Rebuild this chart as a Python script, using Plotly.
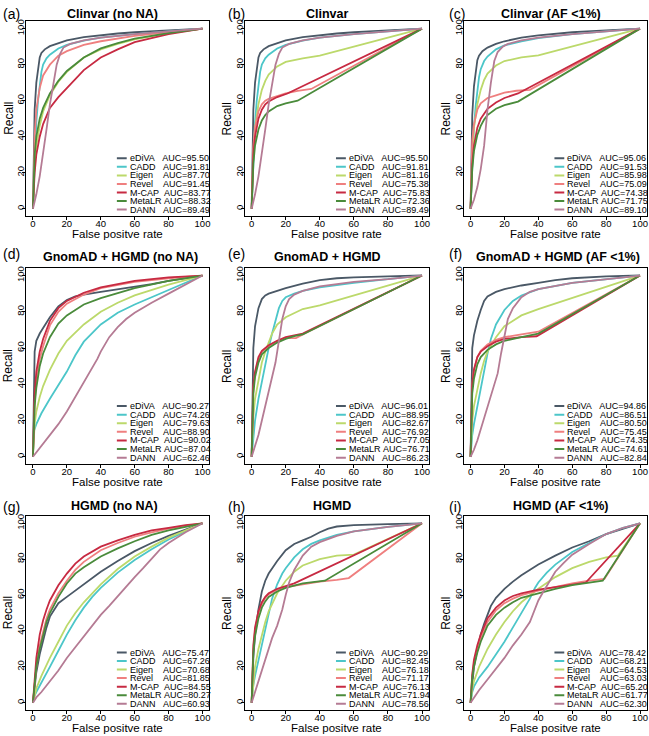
import plotly.graph_objects as go

# ---------------- data ----------------
TOOLS = ["eDiVA", "CADD", "Eigen", "Revel", "M-CAP", "MetaLR", "DANN"]
TITLES = ["Clinvar (no NA)", "Clinvar", "Clinvar (AF <1%)",
          "GnomAD + HGMD (no NA)", "GnomAD + HGMD", "GnomAD + HGMD (AF <1%)",
          "HGMD (no NA)", "HGMD", "HGMD (AF <1%)"]
PANEL_TAGS = ["(a)", "(b)", "(c)", "(d)", "(e)", "(f)", "(g)", "(h)", "(i)"]
X_TICKS = [0, 20, 40, 60, 80, 100]
Y_TICKS = [0, 20, 40, 60, 80, 100]

auc_a = ["95.50", "91.81", "87.70", "91.45", "83.77", "88.32", "89.49"]
auc_b = ["95.50", "91.81", "81.16", "75.38", "75.83", "72.36", "89.49"]
auc_c = ["95.06", "91.53", "85.98", "75.09", "74.38", "71.75", "89.10"]
auc_d = ["90.27", "74.26", "79.63", "88.90", "90.02", "87.04", "62.46"]
auc_e = ["96.01", "88.95", "82.67", "76.92", "77.05", "76.71", "86.23"]
auc_f = ["94.86", "86.51", "80.50", "75.45", "74.35", "74.61", "82.84"]
auc_g = ["75.47", "67.26", "70.68", "81.85", "84.55", "80.27", "60.93"]
auc_h = ["90.29", "82.45", "76.18", "71.17", "76.13", "71.94", "78.56"]
auc_i = ["78.42", "68.21", "64.53", "63.03", "65.20", "61.77", "62.30"]

# (false positive rate, recall)
a_ediva = [(0, 0), (0.5, 35), (1, 55), (2, 70), (3, 79), (4, 84), (5, 86.5), (7, 88.5), (10, 90.3), (15, 92), (20, 93.5), (30, 95.3), (40, 96.5), (50, 97.3), (60, 98), (80, 99), (100, 100)]
a_cadd = [(0, 0), (1, 30), (2, 48), (3, 60), (4, 70), (5, 76), (6, 80), (8, 83.5), (10, 85.5), (15, 89), (20, 91), (30, 93.3), (40, 95), (60, 97), (80, 98.5), (100, 100)]
a_eigen = [(0, 0), (1, 25), (2, 35), (4, 46), (6, 54), (10, 63), (15, 70.5), (20, 76), (30, 84), (40, 88.5), (50, 91.5), (60, 94), (80, 97.5), (100, 100)]
a_revel = [(0, 0), (1, 40), (2, 55), (4, 67), (6, 74), (10, 80), (15, 85), (20, 87.5), (30, 91), (40, 93), (60, 96), (80, 98), (100, 100)]
a_mcap = [(0, 0), (1, 20), (2, 30), (4, 40), (6, 47), (10, 56), (15, 62), (20, 67), (25, 72.5), (30, 77), (40, 84), (50, 88.5), (60, 92.5), (80, 97), (100, 100)]
a_metalr = [(0, 0), (1, 30), (2, 40), (4, 50), (6, 56), (10, 64), (15, 71), (20, 76.5), (30, 84), (40, 89), (50, 92), (60, 94.5), (80, 97.5), (100, 100)]
a_dann = [(0, 0), (2, 8), (4, 18), (6, 30), (8, 44), (10, 58), (12, 70), (14, 80), (16, 86), (18, 89.5), (22, 91.5), (30, 93.5), (40, 95), (60, 97), (80, 98.5), (100, 100)]

b_ediva = [(0, 0), (0.5, 35), (1, 55), (2, 70), (3, 79), (4, 84), (5, 86.5), (7, 88.5), (10, 90.3), (15, 92), (20, 93.5), (30, 95.3), (40, 96.5), (50, 97.3), (60, 98), (80, 99), (100, 100)]
b_cadd = [(0, 0), (1, 30), (2, 48), (3, 60), (4, 70), (5, 76), (6, 80), (8, 83.5), (10, 85.5), (15, 89), (20, 91), (30, 93.3), (40, 95), (60, 97), (80, 98.5), (100, 100)]
b_eigen = [(0, 0), (1, 30), (2, 45), (4, 58), (6, 66), (8, 71), (10, 74.5), (15, 79), (20, 81.5), (30, 83.5), (40, 85), (100, 100)]
b_revel = [(0, 0), (1, 35), (2, 45), (4, 54), (6, 58), (8, 60), (10, 61), (15, 62.5), (20, 64), (27, 65.5), (35, 66.5), (100, 100)]
b_mcap = [(0, 0), (1, 30), (2, 40), (4, 50), (6, 55), (8, 58), (10, 59.5), (15, 62), (21, 64), (100, 100)]
b_metalr = [(0, 0), (1, 25), (2, 35), (4, 44), (6, 49), (8, 52), (10, 54), (15, 57), (20, 58.5), (27, 60), (100, 100)]
b_dann = [(0, 0), (2, 8), (4, 18), (6, 30), (8, 44), (10, 58), (12, 70), (14, 80), (16, 86), (18, 89.5), (22, 91.5), (30, 93.5), (40, 95), (60, 97), (80, 98.5), (100, 100)]

c_ediva = [(0, 0), (0.5, 33), (1, 52), (2, 68), (3, 77), (4, 82.5), (5, 85), (7, 87.5), (10, 89.5), (15, 91.5), (20, 93), (30, 95), (40, 96.3), (50, 97.2), (60, 98), (80, 99), (100, 100)]
c_cadd = [(0, 0), (1, 28), (2, 45), (3, 57), (4, 67), (5, 73), (6, 77.5), (8, 82), (10, 84.5), (15, 88.5), (20, 90.7), (30, 93), (40, 94.8), (60, 97), (80, 98.5), (100, 100)]
c_eigen = [(0, 0), (1, 30), (2, 45), (4, 58), (6, 66), (8, 71.5), (10, 75), (15, 79.5), (20, 82), (30, 84), (40, 85.2), (100, 100)]
c_revel = [(0, 0), (1, 38), (2, 47), (4, 55), (6, 58.5), (8, 60), (10, 61.5), (15, 63), (20, 64.5), (27, 65.5), (35, 66), (100, 100)]
c_mcap = [(0, 0), (1, 25), (2, 35), (4, 45), (6, 50), (8, 53), (10, 55.5), (15, 59), (20, 61.5), (28, 64), (100, 100)]
c_metalr = [(0, 0), (1, 22), (2, 32), (4, 41), (6, 46), (8, 49.5), (10, 52), (15, 55.5), (20, 57.5), (28, 59.5), (100, 100)]
c_dann = [(0, 0), (2, 5), (4, 12), (6, 22), (8, 35), (10, 55), (12, 70), (14, 82), (16, 87), (19, 90), (22, 91.5), (30, 93.5), (40, 95), (60, 97), (80, 98.5), (100, 100)]

d_ediva = [(0, 0), (0.5, 40), (1, 58), (2, 64), (4, 68), (6, 71), (10, 77), (15, 83), (20, 86.5), (25, 88.5), (30, 89.5), (40, 91), (50, 92.3), (60, 93.7), (70, 95.3), (80, 97), (90, 98.5), (100, 100)]
d_cadd = [(0, 0), (0.5, 14), (2, 18), (5, 24), (10, 32), (15, 39.5), (20, 47), (25, 56), (30, 63.5), (40, 73), (50, 79.5), (60, 84), (70, 88), (80, 92), (90, 96), (100, 100)]
d_eigen = [(0, 0), (1, 18), (2, 25), (4, 33), (6, 39), (10, 48), (15, 57), (20, 64), (30, 73), (40, 80), (50, 85), (60, 89), (80, 95), (100, 100)]
d_revel = [(0, 0), (1, 30), (2, 42), (4, 54), (6, 61), (10, 72.5), (15, 80), (20, 84.5), (30, 89.5), (40, 93), (60, 96.5), (80, 98.5), (100, 100)]
d_mcap = [(0, 0), (1, 35), (2, 47), (4, 58), (6, 65), (10, 75), (15, 82), (20, 86), (30, 90.5), (40, 93.5), (60, 97), (80, 99), (100, 100)]
d_metalr = [(0, 0), (1, 28), (2, 38), (4, 50), (6, 57), (10, 66), (15, 73.5), (20, 78), (30, 84), (40, 87.5), (60, 93), (80, 97), (100, 100)]
d_dann = [(0, 0), (5, 6), (10, 12), (15, 18), (20, 25), (25, 33), (30, 41), (35, 49), (38, 54), (40, 58), (45, 66), (50, 71.5), (55, 76), (60, 79.5), (70, 85), (80, 90), (90, 95), (100, 100)]

e_ediva = [(0, 0), (0.5, 40), (1, 60), (2, 72), (4, 82), (6, 87), (8, 89), (10, 90), (15, 91.5), (20, 93), (30, 95.5), (40, 97.5), (50, 98.5), (60, 99), (80, 99.5), (100, 100)]
e_cadd = [(0, 0), (1, 12), (2, 20), (4, 32), (6, 42), (8, 51), (10, 60), (12, 68), (14, 75), (16, 82), (18, 86), (20, 88), (25, 90), (30, 91.5), (40, 93.5), (60, 96), (80, 98), (100, 100)]
e_eigen = [(0, 0), (1, 22), (2, 32), (4, 43), (6, 52), (8, 58), (10, 63), (12, 68), (15, 73), (20, 77), (30, 81.5), (40, 83.5), (100, 100)]
e_revel = [(0, 0), (0.5, 28), (1, 38), (2, 46), (4, 54), (6, 58), (10, 61), (15, 64), (20, 65.5), (26, 65.5), (32, 68.5), (100, 100)]
e_mcap = [(0, 0), (0.5, 30), (1, 40), (2, 47), (4, 55), (6, 58.5), (10, 61.5), (15, 64), (20, 66), (25, 67), (30, 68), (100, 100)]
e_metalr = [(0, 0), (0.5, 25), (1, 35), (2, 44), (4, 52), (6, 56.5), (10, 60), (15, 63), (20, 65), (25, 66.5), (30, 67.5), (100, 100)]
e_dann = [(0, 0), (2, 6), (4, 12), (6, 20), (8, 28), (10, 36), (12, 43), (14, 52), (16, 64), (18, 76), (20, 83), (22, 87), (25, 89.5), (30, 91.5), (40, 94), (60, 96.5), (80, 98), (100, 100)]

f_ediva = [(0, 0), (0.5, 40), (1, 60), (2, 67), (4, 75), (6, 81), (8, 86), (10, 88.5), (15, 91), (20, 92.5), (30, 94.5), (40, 96), (50, 97.5), (60, 98.5), (80, 99.5), (100, 100)]
f_cadd = [(0, 0), (1, 12), (2, 18), (4, 28), (6, 38), (8, 48), (10, 57), (12, 65), (15, 73), (20, 81), (25, 86), (30, 89), (40, 92.5), (60, 96), (80, 98), (100, 100)]
f_eigen = [(0, 0), (1, 20), (2, 28), (4, 38), (6, 46), (8, 53), (10, 58), (15, 66), (20, 72), (30, 78), (40, 81.5), (100, 100)]
f_revel = [(0, 0), (0.5, 30), (1, 40), (2, 48), (4, 55), (6, 58.5), (10, 62), (15, 64.5), (20, 66), (30, 67.5), (40, 69), (100, 100)]
f_mcap = [(0, 0), (0.5, 30), (1, 40), (2, 48), (4, 55), (6, 58), (10, 61), (15, 63.5), (20, 65), (30, 66), (39, 66.5), (100, 100)]
f_metalr = [(0, 0), (0.5, 25), (1, 35), (2, 43), (4, 51), (6, 55), (10, 59), (15, 62), (20, 64), (30, 66), (40, 68), (100, 100)]
f_dann = [(0, 0), (2, 4), (4, 9), (6, 15), (8, 21), (10, 28), (12, 34), (14, 40), (16, 46), (18, 57), (20, 67), (22, 76), (25, 82), (30, 88), (35, 91), (40, 92.5), (60, 96), (80, 98), (100, 100)]

g_ediva = [(0, 0), (1, 10), (2, 17), (4, 27), (6, 35), (8, 42), (10, 48), (13, 53), (15, 55.5), (20, 59), (25, 62.5), (30, 66.5), (40, 73), (50, 79), (60, 84.5), (70, 89), (80, 93), (90, 96.5), (100, 100)]
g_cadd = [(0, 0), (1, 4), (2, 6), (5, 11), (10, 20), (15, 29), (20, 38), (25, 46), (30, 53), (35, 59), (40, 64), (50, 72.5), (60, 79.5), (70, 85.5), (80, 91), (90, 95.5), (100, 100)]
g_eigen = [(0, 0), (1, 5), (2, 8), (5, 15), (10, 25), (15, 34), (20, 43), (25, 50), (30, 56), (40, 66), (50, 74.5), (60, 81.5), (70, 87), (80, 92), (90, 96), (100, 100)]
g_revel = [(0, 0), (1, 12), (2, 20), (4, 32), (6, 40), (8, 47), (10, 52), (15, 61), (20, 68), (25, 74), (30, 78.5), (40, 85), (50, 89), (60, 92.5), (70, 95), (80, 97), (90, 98.5), (100, 100)]
g_mcap = [(0, 0), (1, 15), (2, 25), (4, 38), (6, 46), (8, 52), (10, 57), (15, 65.5), (20, 72), (25, 77.5), (30, 81.5), (40, 87), (50, 90.5), (60, 93.5), (70, 96), (80, 97.5), (90, 99), (100, 100)]
g_metalr = [(0, 0), (1, 12), (2, 20), (4, 30), (6, 38), (8, 45), (10, 50), (15, 59), (20, 66.5), (25, 72), (30, 75.5), (40, 81.5), (50, 86), (60, 90), (70, 93.5), (80, 96), (90, 98), (100, 100)]
g_dann = [(0, 0), (2, 3), (5, 6), (10, 12), (15, 18), (20, 25), (25, 31), (30, 37), (35, 43), (40, 49), (45, 54), (50, 59.5), (55, 65), (60, 70), (65, 75), (70, 80.5), (75, 85.5), (80, 89), (90, 95), (100, 100)]

h_ediva = [(0, 0), (1, 25), (2, 38), (4, 52), (6, 62), (8, 68), (10, 72), (15, 79), (20, 85), (25, 88.5), (30, 90.5), (35, 92.5), (40, 95), (45, 97), (50, 98.2), (60, 99), (80, 99.5), (100, 100)]
h_cadd = [(0, 0), (1, 10), (2, 15), (4, 24), (6, 33), (8, 42), (10, 50), (12, 58), (15, 66), (18, 72), (20, 75), (25, 81), (30, 85.5), (35, 88.5), (40, 90.5), (50, 93.5), (60, 95.5), (80, 98), (100, 100)]
h_eigen = [(0, 0), (1, 12), (2, 20), (4, 30), (6, 38), (8, 45), (10, 51), (15, 61), (20, 68), (25, 73), (30, 76.5), (40, 80), (50, 82), (60, 82.5), (100, 100)]
h_revel = [(0, 0), (0.5, 20), (1, 30), (2, 40), (4, 50), (6, 55), (8, 58.5), (10, 60.5), (15, 63), (20, 64.5), (30, 66), (40, 67.5), (50, 68.5), (57, 69.5), (100, 100)]
h_mcap = [(0, 0), (0.5, 22), (1, 32), (2, 42), (4, 51), (6, 56), (8, 59), (10, 61), (15, 63.5), (20, 65), (25, 66.5), (100, 100)]
h_metalr = [(0, 0), (0.5, 18), (1, 28), (2, 37), (4, 47), (6, 53), (8, 56.5), (10, 59), (15, 62), (20, 64), (30, 66.5), (43, 68), (100, 100)]
h_dann = [(0, 0), (2, 6), (4, 12), (6, 18), (8, 24), (10, 30), (12, 36), (15, 43), (18, 52), (20, 60), (22, 67), (25, 74), (28, 79), (30, 82), (35, 87), (40, 89.5), (50, 93), (60, 95.5), (80, 98), (100, 100)]

i_ediva = [(0, 0), (1, 12), (2, 20), (4, 30), (6, 38), (8, 44), (10, 49.5), (12, 54), (15, 58.5), (20, 63.5), (25, 67.5), (30, 71), (40, 77), (50, 82), (60, 86.5), (70, 90), (80, 94), (90, 97), (100, 100)]
i_cadd = [(0, 0), (1, 6), (2, 9), (5, 14), (10, 20), (15, 27), (20, 34), (25, 42), (30, 50), (35, 58), (38, 64), (40, 67), (45, 72.5), (50, 77), (60, 84), (70, 89), (80, 94), (90, 97.5), (100, 100)]
i_eigen = [(0, 0), (1, 8), (2, 12), (5, 20), (10, 30), (15, 38), (20, 45), (25, 51), (30, 56), (40, 63.5), (50, 70), (60, 75), (70, 78.5), (80, 81), (87, 82), (100, 100)]
i_revel = [(0, 0), (1, 15), (2, 22), (4, 30), (6, 36), (8, 41), (10, 45), (15, 51.5), (20, 55.5), (25, 58), (30, 60), (40, 62.5), (50, 64.5), (60, 66.5), (70, 68), (79, 69), (100, 100)]
i_mcap = [(0, 0), (1, 16), (2, 24), (4, 32), (6, 38), (8, 43), (10, 47), (15, 53), (20, 57), (25, 59.5), (30, 61), (40, 63), (50, 64.5), (60, 66), (68, 67), (100, 100)]
i_metalr = [(0, 0), (1, 14), (2, 20), (4, 28), (6, 34), (8, 39), (10, 43), (15, 49), (20, 53), (25, 56), (30, 58.5), (40, 61), (50, 63.5), (60, 65.5), (70, 67), (78, 68), (100, 100)]
i_dann = [(0, 0), (2, 3), (5, 7), (10, 13), (15, 19), (20, 25), (25, 32), (30, 38), (35, 45), (38, 52), (40, 57), (43, 62), (46, 67), (50, 73), (55, 78), (60, 82.5), (70, 88.5), (80, 94), (90, 97.5), (100, 100)]

# ---------------- styling ----------------
COLORS = ["#4a5866", "#4cc6c9", "#bcd96b", "#ef7f7f", "#c72a42", "#4a8b3b", "#b57b94"]
PAD = [3, 3, 4, 4, 2, 1, 3]
FONT = "Liberation Sans, Arial, Helvetica, sans-serif"
W, H = 649, 736
COLS = [(26.2, 209.6), (245.2, 429.5), (464.5, 647.8)]
ROWS = [(19.5, 214.5), (267.0, 463.3), (515.5, 709.9)]
TITLE_X = [112.5, 328, 552, 121, 328, 559, 115, 333, 562]
TITLE_Y = [12, 256, 505]
TAG_X = [1, 226, 448]
TAG_Y = [12, 253, 506]

panels = [
    (auc_a, [a_ediva, a_cadd, a_eigen, a_revel, a_mcap, a_metalr, a_dann]),
    (auc_b, [b_ediva, b_cadd, b_eigen, b_revel, b_mcap, b_metalr, b_dann]),
    (auc_c, [c_ediva, c_cadd, c_eigen, c_revel, c_mcap, c_metalr, c_dann]),
    (auc_d, [d_ediva, d_cadd, d_eigen, d_revel, d_mcap, d_metalr, d_dann]),
    (auc_e, [e_ediva, e_cadd, e_eigen, e_revel, e_mcap, e_metalr, e_dann]),
    (auc_f, [f_ediva, f_cadd, f_eigen, f_revel, f_mcap, f_metalr, f_dann]),
    (auc_g, [g_ediva, g_cadd, g_eigen, g_revel, g_mcap, g_metalr, g_dann]),
    (auc_h, [h_ediva, h_cadd, h_eigen, h_revel, h_mcap, h_metalr, h_dann]),
    (auc_i, [i_ediva, i_cadd, i_eigen, i_revel, i_mcap, i_metalr, i_dann]),
]


def px_x(p):
    return p / W


def px_y(p):
    return 1 - p / H


fig = go.Figure()
layout = dict(width=W, height=H, margin=dict(l=0, r=0, t=0, b=0),
              paper_bgcolor="white", plot_bgcolor="white", showlegend=False,
              font=dict(family=FONT, color="black"), hovermode=False)
annotations = []
shapes = []

for k, (aucs, curves) in enumerate(panels):
    r, c = divmod(k, 3)
    sfx = "" if k == 0 else str(k + 1)
    xref, yref = "x" + sfx, "y" + sfx
    axis_common = dict(range=[-4, 104], showgrid=False, zeroline=False,
                       showline=True, mirror=True, linecolor="black", linewidth=1,
                       ticks="outside", ticklen=3, tickwidth=1, tickcolor="black",
                       tickfont=dict(family=FONT, size=9.5, color="black"), fixedrange=True)
    layout["xaxis" + sfx] = dict(axis_common, domain=[px_x(COLS[c][0]), px_x(COLS[c][1])],
                                 anchor=yref, tickvals=X_TICKS, ticklabelstandoff=-4)
    layout["yaxis" + sfx] = dict(axis_common, domain=[px_y(ROWS[r][1]), px_y(ROWS[r][0])],
                                 anchor=xref, tickvals=Y_TICKS, tickangle=-90,
                                 ticklabelstandoff=-6)
    for j, pts in enumerate(curves):
        fig.add_trace(go.Scatter(x=[p[0] for p in pts], y=[p[1] for p in pts],
                                 mode="lines", name=TOOLS[j], xaxis=xref, yaxis=yref,
                                 line=dict(color=COLORS[j], width=1.8)))
    # legend (drawn manually, R-style)
    for j in range(7):
        ly = 28 - j * 4.75
        shapes.append(dict(type="line", xref=xref, yref=yref, x0=49.5, x1=55.3, y0=ly, y1=ly,
                           line=dict(color=COLORS[j], width=2)))
        label = TOOLS[j] + "\u00a0" * PAD[j] + "AUC=" + aucs[j]
        annotations.append(dict(xref=xref, yref=yref, x=55.8, y=ly, text=label,
                                showarrow=False, xanchor="left", yanchor="middle",
                                font=dict(family=FONT, size=9, color="black")))
    # titles
    annotations.append(dict(xref="paper", yref="paper", x=px_x(TITLE_X[k]), y=px_y(TITLE_Y[r]),
                            text="<b>" + TITLES[k] + "</b>", showarrow=False,
                            xanchor="center", yanchor="middle",
                            font=dict(family=FONT, size=12.5, color="black")))
    annotations.append(dict(xref="paper", yref="paper", x=px_x(TAG_X[c]), y=px_y(TAG_Y[r]),
                            text=PANEL_TAGS[k], showarrow=False,
                            xanchor="left", yanchor="middle",
                            font=dict(family=FONT, size=14, color="black")))
    # axis titles
    annotations.append(dict(xref="paper", yref="paper", x=px_x(COLS[c][0] - 18),
                            y=px_y((ROWS[r][0] + ROWS[r][1]) / 2), text="Recall",
                            textangle=-90, showarrow=False, xanchor="center", yanchor="middle",
                            font=dict(family=FONT, size=12, color="black")))
    annotations.append(dict(xref="paper", yref="paper", x=px_x((COLS[c][0] + COLS[c][1]) / 2),
                            y=px_y(ROWS[r][1] + 18), text="False positve rate",
                            showarrow=False, xanchor="center", yanchor="middle",
                            font=dict(family=FONT, size=11.5, color="black")))

layout["annotations"] = annotations
layout["shapes"] = shapes
fig.update_layout(**layout)
# remove the browser's default 8px body margin so the figure sits at the page origin
fig.write_html("out.html", config={"displayModeBar": False},
               post_script="document.body.style.margin='0';")
